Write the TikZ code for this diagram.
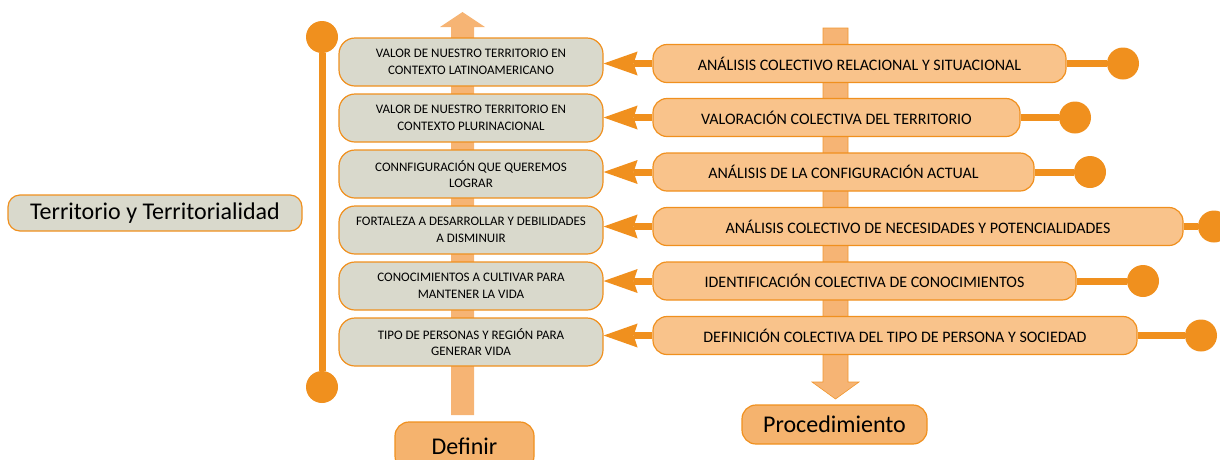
\documentclass[tikz,border=0pt]{standalone}
\usepackage{fontspec}
\setmainfont{Carlito}
\usetikzlibrary{arrows.meta}
\definecolor{org}{HTML}{F0901E}
\definecolor{lorg}{HTML}{F6B474}
\definecolor{rfill}{HTML}{F9C38B}
\definecolor{gfill}{HTML}{D9D9CC}
\definecolor{pfill}{HTML}{F5B36E}
\begin{document}
\begin{tikzpicture}[x=1pt,y=-1pt,
  lbox/.style={draw=org, fill=gfill, rounded corners=16pt, minimum width=264pt, minimum height=48pt,
    align=center, font=\fontsize{13}{16.5}\selectfont, line width=1.2pt, inner sep=2pt},
  rbox/.style={draw=org, fill=rfill, rounded corners=14pt, minimum height=38pt,
    line width=1.2pt, font=\fontsize{16}{18}\selectfont, inner sep=0pt},
  bigbox/.style={draw=org, fill=pfill, rounded corners=14pt, line width=1.2pt,
    font=\fontsize{24}{28}\selectfont, inner sep=0pt},
  dot/.style={circle, fill=org, minimum size=32pt, inner sep=0pt},
  link/.style={draw=org, line width=7pt},
  feed/.style={draw=org, line width=7pt, -{Stealth[length=34pt,width=24pt,inset=4pt,line width=0pt]}},
  band/.style={fill=lorg}
]
\clip (0,0) rectangle (1220,459);
\useasboundingbox (0,0) rectangle (1220,459);

% background block arrows
\fill[band] (451,415) -- (451,27) -- (440,27) -- (462.5,12) -- (485,27) -- (474,27) -- (474,415) -- cycle;
\filldraw[band, draw=org!80!lorg, line width=0.6pt] (823,28) -- (848,28) -- (848,382) -- (859,382) -- (835.5,399) -- (812,382) -- (823,382) -- cycle;

% left vertical bar
\node[dot] (t) at (322,37) {};
\node[dot] (b) at (322,387) {};
\draw[link] (t) -- (b);

% left label
\node[draw=org, fill=gfill, rounded corners=12pt, line width=1.2pt, minimum width=294pt, minimum height=36pt,
  inner sep=0pt, font=\fontsize{24}{28}\selectfont] (terr) at (155,213) {Territorio y Territorialidad};

% left boxes
\node[lbox] (l1) at (471,62) {VALOR DE NUESTRO TERRITORIO EN\\CONTEXTO LATINOAMERICANO};
\node[lbox] (l2) at (471,118) {VALOR DE NUESTRO TERRITORIO EN\\CONTEXTO PLURINACIONAL};
\node[lbox] (l3) at (471,174) {CONNFIGURACIÓN QUE QUEREMOS\\LOGRAR};
\node[lbox] (l4) at (471,230) {FORTALEZA A DESARROLLAR Y DEBILIDADES\\A DISMINUIR};
\node[lbox] (l5) at (471,286) {CONOCIMIENTOS A CULTIVAR PARA\\MANTENER LA VIDA};
\node[lbox] (l6) at (471,342) {TIPO DE PERSONAS Y REGIÓN PARA\\GENERAR VIDA};

% right boxes
\node[rbox, minimum width=413pt] (r1) at (859.5,63.5) {ANÁLISIS COLECTIVO RELACIONAL Y SITUACIONAL};
\node[rbox, minimum width=367pt] (r2) at (836.5,117.5) {VALORACIÓN COLECTIVA DEL TERRITORIO};
\node[rbox, minimum width=381pt] (r3) at (843.5,172) {ANÁLISIS DE LA CONFIGURACIÓN ACTUAL};
\node[rbox, minimum width=530pt] (r4) at (918,226.5) {ANÁLISIS COLECTIVO DE NECESIDADES Y POTENCIALIDADES};
\node[rbox, minimum width=423pt] (r5) at (864.5,281) {IDENTIFICACIÓN COLECTIVA DE CONOCIMIENTOS};
\node[rbox, minimum width=484pt] (r6) at (895,335.5) {DEFINICIÓN COLECTIVA DEL TIPO DE PERSONA Y SOCIEDAD};

% end dots
\node[dot] (c1) at (1123,63.5) {};
\node[dot] (c2) at (1075,117.5) {};
\node[dot] (c3) at (1090,172) {};
\node[dot] (c4) at (1214,226.5) {};
\node[dot] (c5) at (1143,281) {};
\node[dot] (c6) at (1201,335.5) {};

\foreach \i in {1,...,6}{
  \draw[link] (r\i.east) -- (c\i);
  \draw[feed] (r\i.west) -- (r\i.west -| l\i.east);
}

% bottom labels
\node[bigbox, minimum width=139pt, minimum height=48pt] (def) at (464.5,446) {Definir};
\node[bigbox, minimum width=185pt, minimum height=39pt] (proc) at (834.5,424.5) {Procedimiento};
\end{tikzpicture}
\end{document}
